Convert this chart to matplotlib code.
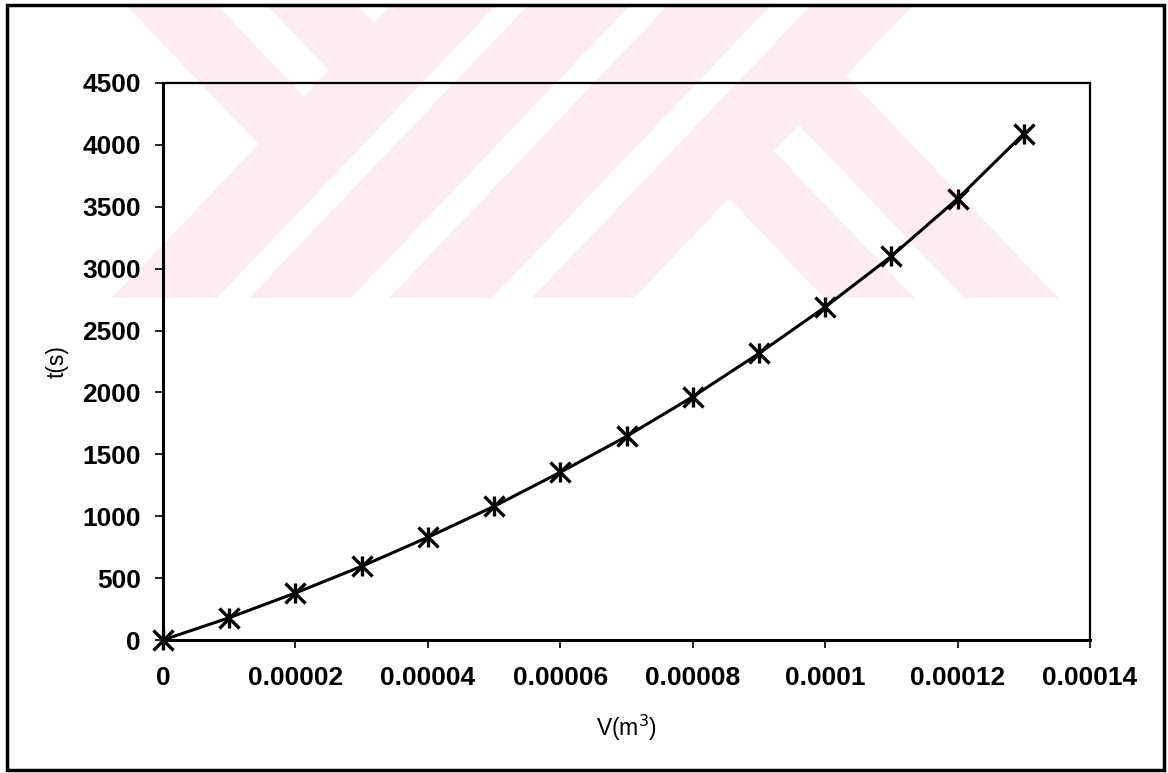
import numpy as np
import matplotlib
matplotlib.use("Agg")
import matplotlib.pyplot as plt
from matplotlib.patches import Rectangle

plt.rcParams['font.family'] = ['Liberation Sans', 'DejaVu Sans']

# volume (m^3) and filtration time (s)
volume = [0, 1e-5, 2e-5, 3e-5, 4e-5, 5e-5, 6e-5, 7e-5, 8e-5, 9e-5,
          1e-4, 1.1e-4, 1.2e-4, 1.3e-4]
time_s = [0, 180, 380, 595, 830, 1080, 1355, 1645, 1965, 2315,
          2690, 3100, 3565, 4090]

x_ticks = [0, 2e-5, 4e-5, 6e-5, 8e-5, 1e-4, 1.2e-4, 1.4e-4]
x_tick_labels = ['0', '0.00002', '0.00004', '0.00006', '0.00008',
                 '0.0001', '0.00012', '0.00014']
y_ticks = [0, 500, 1000, 1500, 2000, 2500, 3000, 3500, 4000, 4500]

W, H = 1168, 773


def watermark():
    # faint pink diagonal band logo behind the chart (pixel space, y down)
    yy, xx = np.mgrid[0:H, 0:W].astype(float)
    u = xx + 0.953 * yy
    v = xx - 0.953 * yy
    band = lambda a, lo, hi: (a >= lo) & (a < hi)
    slash = (band(u, 395, 500) | band(u, 532, 634) |
             band(u, 672, 775) | band(u, 815, 917))
    left = (u < 395) & (band(v, 121, 212) | band(v, 262, 352))
    right = (u >= 917) & (band(v, 540, 630) | band(v, 680, 774))
    mask = (slash | left | right) & (yy >= 5) & (yy <= 297)
    img = np.zeros((H, W, 4))
    img[..., 0] = 253 / 255
    img[..., 1] = 236 / 255
    img[..., 2] = 240 / 255
    img[..., 3] = mask.astype(float)
    return img


fig = plt.figure(figsize=(W / 100, H / 100), dpi=100)
fig.patch.set_facecolor('white')
fig.figimage(watermark(), xo=0, yo=0, origin='upper', zorder=-1)

# chart border
fig.add_artist(Rectangle((7 / W, 1 - 770 / H), (1164 - 7) / W, (770 - 5) / H,
                         transform=fig.transFigure, fill=False,
                         lw=2.5, ec='black'))

ax = fig.add_axes([163 / W, 1 - 640 / H, (1090 - 163) / W, (640 - 83) / H])
ax.set_facecolor('none')

ax.plot(volume, time_s, color='black', lw=2.2, clip_on=False, zorder=3)
ax.plot(volume, time_s, ls='none', marker='x', ms=14, mew=2.4,
        color='black', clip_on=False, zorder=4)
ax.plot(volume, time_s, ls='none', marker='|', ms=15, mew=2.4,
        color='black', clip_on=False, zorder=4)

ax.set_xlim(0, 1.4e-4)
ax.set_ylim(0, 4500)
ax.set_xticks(x_ticks)
ax.set_xticklabels(x_tick_labels)
ax.set_yticks(y_ticks)

for side in ['left', 'bottom']:
    ax.spines[side].set_linewidth(2.2)
for side in ['top', 'right']:
    ax.spines[side].set_linewidth(1.6)

ax.tick_params(axis='both', direction='out', length=6, width=1.2,
               labelsize=19)
ax.tick_params(axis='x', pad=13)
ax.tick_params(axis='y', pad=10)
for lab in ax.get_xticklabels() + ax.get_yticklabels():
    lab.set_fontweight('bold')

ax.set_xlabel('V(m$^3$)', fontsize=16.5, labelpad=16)
ax.set_ylabel('t(s)', fontsize=16.5, labelpad=10)

fig.savefig('out.png', dpi=100)
